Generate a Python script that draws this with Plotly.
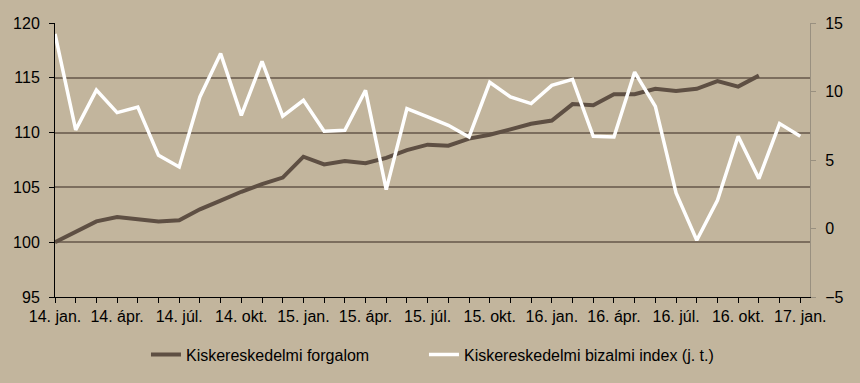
import plotly.graph_objects as go

months = list(range(37))  # 2014-01 .. 2017-01, monthly
tick_labels = ["14. jan.", "14. ápr.", "14. júl.", "14. okt.",
               "15. jan.", "15. ápr.", "15. júl.", "15. okt.",
               "16. jan.", "16. ápr.", "16. júl.", "16. okt.", "17. jan."]

forgalom = [100.0, 101.0, 101.9, 102.3, 102.1, 101.9, 102.0, 103.0, 103.8, 104.6,
            105.3, 105.9, 107.8, 107.1, 107.4, 107.2, 107.7, 108.4, 108.9, 108.8,
            109.45, 109.8, 110.3, 110.8, 111.1, 112.6, 112.5, 113.5, 113.5, 114.0,
            113.8, 114.0, 114.7, 114.2, 115.2]

bizalmi = [14.2, 7.2, 10.1, 8.46, 8.87, 5.34, 4.49, 9.6, 12.77, 8.26,
           12.2, 8.2, 9.36, 7.1, 7.17, 10.09, 2.84, 8.75, 8.14, 7.53,
           6.68, 10.67, 9.6, 9.12, 10.45, 10.89, 6.73, 6.68, 11.42, 8.92,
           2.59, -0.86, 2.06, 6.73, 3.64, 7.66, 6.73]

BG = "#C2B59D"
BROWN = "#5E4F43"
GRID = "#7C6E5E"
FONT = "Arial, Liberation Sans, sans-serif"

fig = go.Figure()
fig.add_trace(go.Scatter(x=months[:len(forgalom)], y=forgalom, mode="lines",
                         name="Kiskereskedelmi forgalom", legend="legend",
                         line=dict(color=BROWN, width=4)))
fig.add_trace(go.Scatter(x=months[:len(bizalmi)], y=bizalmi, mode="lines",
                         name="Kiskereskedelmi bizalmi index (j. t.)", legend="legend2",
                         line=dict(color="#FFFFFF", width=3.5), yaxis="y2"))

tickvals = months
ticktext = [tick_labels[i // 3] if i % 3 == 0 else "" for i in months]

legend_style = dict(orientation="h", y=-0.21, yanchor="middle", xanchor="left",
                    font=dict(size=16), bgcolor="rgba(0,0,0,0)")

fig.update_layout(
    width=860, height=383,
    margin=dict(l=55, r=50, t=23, b=86),
    paper_bgcolor=BG, plot_bgcolor=BG,
    font=dict(family=FONT, color="#000000", size=16),
    showlegend=True,
    legend=dict(x=0.1205, **legend_style),
    legend2=dict(x=0.4887, **legend_style),
    xaxis=dict(range=[0, 36.47], tickmode="array", tickvals=tickvals, ticktext=ticktext,
               ticks="outside", ticklen=5, tickcolor="#000000", showgrid=False,
               showline=True, linecolor="#000000", linewidth=1, zeroline=False,
               tickfont=dict(size=16), tickangle=0),
    yaxis=dict(range=[95, 120], dtick=5, tick0=95, ticks="outside", ticklen=5,
               tickcolor="#000000", showline=True, linecolor="#000000", linewidth=1,
               showgrid=True, gridcolor=GRID, gridwidth=2, zeroline=False,
               tickfont=dict(size=16), ticklabelstandoff=6),
    yaxis2=dict(range=[-5, 15], dtick=5, tick0=-5, overlaying="y", side="right",
                ticks="outside", ticklen=5, tickcolor="#999080", showline=True,
                linecolor="#999080", linewidth=1, showgrid=False, zeroline=False,
                tickfont=dict(size=16), ticklabelstandoff=6),
)

fig.write_html("out.html", config={"displayModeBar": False},
               post_script="document.body.style.margin='0';")
